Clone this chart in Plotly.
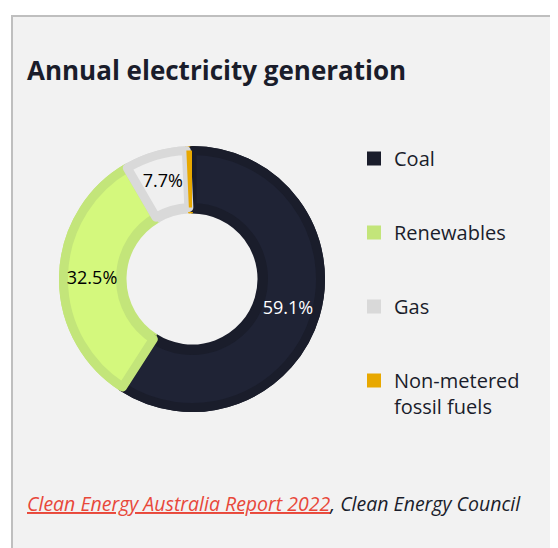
import plotly.graph_objects as go

# ---- data ----
categories = ["Coal", "Renewables", "Gas", "Non-metered fossil fuels"]
legend_labels = ["Coal", "Renewables", "Gas", "Non-metered<br>fossil fuels"]
shares = [59.1, 32.5, 7.7, 0.7]
slice_text = ["59.1%", "32.5%", "7.7%", ""]

title_text = "Annual electricity generation"
source_link = "Clean Energy Australia Report 2022"
source_rest = ", Clean Energy Council"

# ---- styles ----
fill_colors = ["#1f2335", "#d4f87d", "#efefef", "#e8a800"]
border_colors = ["#1a1d2b", "#c3e57a", "#d9d9d9", "#e8a800"]
text_colors = ["#ffffff", "#000000", "#000000", "#000000"]
FONT = "Open Sans"

W, H = 558, 548
OX, OY = 8, 8              # page body margin offset
cx, cy = 192 - OX, 279 - OY  # donut centre (px within figure)
R, r = 133, 67             # outer / inner radius (px)
b = 9                      # border thickness (px)


def px(x):
    return (x - OX) / W


def py(y):
    return 1 - (y - OY) / H


def dom(rad):
    return dict(x=[(cx - rad) / W, (cx + rad) / W],
                y=[1 - (cy + rad) / H, 1 - (cy - rad) / H])


fig = go.Figure()

# border layer
fig.add_trace(go.Pie(
    labels=categories, values=shares, sort=False, direction="clockwise",
    rotation=0, hole=r / R, domain=dom(R - 1),
    marker=dict(colors=border_colors, line=dict(color=border_colors, width=2)),
    textinfo="none", hoverinfo="skip", showlegend=False,
))

# fill layer with inset borders
fig.add_trace(go.Pie(
    labels=categories, values=shares, sort=False, direction="clockwise",
    rotation=0, hole=(r + b / 2) / (R - b / 2), domain=dom(R - b / 2),
    marker=dict(colors=fill_colors,
                line=dict(color=border_colors, width=[b, b, b, 0])),
    text=slice_text, textinfo="text", textposition="inside",
    insidetextorientation="horizontal",
    textfont=dict(family=FONT, size=18, color=text_colors),
    showlegend=False, hoverinfo="label+percent",
))

# legend entries (one group per category for spacing control)
for i, lab in enumerate(legend_labels):
    fig.add_trace(go.Scatter(
        x=[None], y=[None], mode="markers", name=lab,
        legendgroup=f"g{i}", showlegend=True, hoverinfo="skip",
        marker=dict(symbol="square", size=14, color=border_colors[i],
                    line=dict(width=0)),
    ))

fig.update_layout(
    width=W, height=H,
    margin=dict(l=0, r=0, t=0, b=0),
    paper_bgcolor="#ffffff",
    plot_bgcolor="rgba(0,0,0,0)",
    font=dict(family=FONT, color="#1a1d2b"),
    xaxis=dict(visible=False),
    yaxis=dict(visible=False),
    showlegend=True,
    legend=dict(
        x=px(354), xanchor="left", y=py(139), yanchor="top",
        bgcolor="rgba(0,0,0,0)", font=dict(family=FONT, size=20, color="#1a1d2b"),
        valign="top", traceorder="grouped", tracegroupgap=45, itemclick=False,
    ),
    shapes=[dict(
        type="rect", xref="paper", yref="paper", layer="below",
        x0=px(12), x1=1.05, y0=-0.05, y1=py(16),
        fillcolor="#f2f2f2", line=dict(color="#bfbfbf", width=2),
    )],
    annotations=[
        dict(text="<b>" + title_text + "</b>", xref="paper", yref="paper",
             x=px(25), y=py(70), xanchor="left", yanchor="middle",
             showarrow=False, font=dict(family=FONT, size=26, color="#1a1d2b")),
        dict(text="<i><span style='color:#e8483a'><u>" + source_link + "</u></span>"
                  + source_rest + "</i>",
             xref="paper", yref="paper",
             x=px(25), y=py(503), xanchor="left", yanchor="middle",
             showarrow=False, font=dict(family=FONT, size=19.5, color="#1a1d2b")),
    ],
)

fig.write_html("out.html")
